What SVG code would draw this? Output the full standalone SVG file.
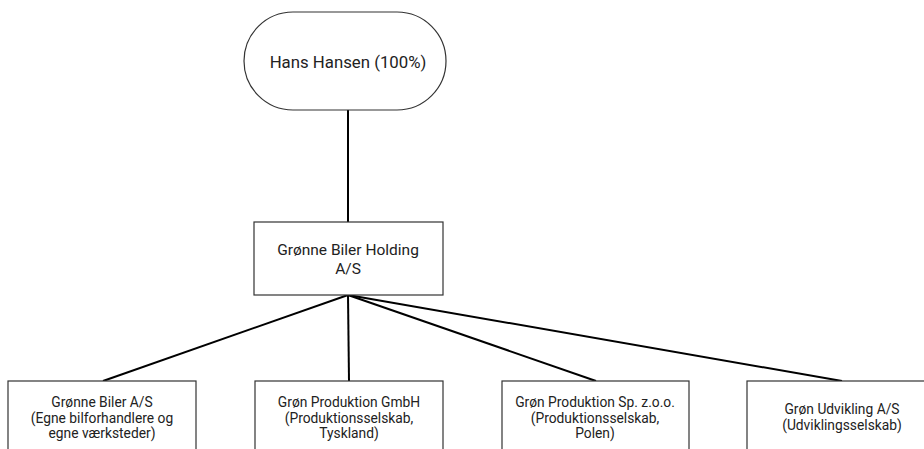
<svg xmlns="http://www.w3.org/2000/svg" width="924" height="449" viewBox="0 0 924 449">
<style>
.box{fill:#fff;stroke:#333;stroke-width:1.2}
.t{font-family:Roboto,"Liberation Sans",sans-serif;fill:#222;text-anchor:middle}
.top{font-size:16.8px}
.big{font-size:15.5px}
.sm{font-size:13.8px}
.c{stroke:#000;stroke-width:2;fill:none}
</style>
<rect width="924" height="449" fill="#fff"/>
<g id="connectors">
<line class="c" x1="348" y1="110" x2="348" y2="222"/>
<line class="c" x1="348" y1="295" x2="103" y2="381"/>
<line class="c" x1="348" y1="295" x2="349" y2="381"/>
<line class="c" x1="348" y1="295" x2="596" y2="381"/>
<line class="c" x1="348" y1="295" x2="842" y2="381"/>
</g>
<g id="hans">
<rect class="box" x="244" y="12" width="202" height="98" rx="49" ry="49"/>
<text class="t top" x="348" y="68">Hans Hansen (100%)</text>
</g>
<g id="holding">
<rect class="box" x="254" y="222" width="189" height="73"/>
<text class="t big" x="348" y="254.5">Grønne Biler Holding</text>
<text class="t big" x="348" y="274">A/S</text>
</g>
<g id="biler">
<rect class="box" x="8" y="381" width="188" height="80"/>
<text class="t sm" x="102" y="407">Grønne Biler A/S</text>
<text class="t sm" x="102" y="422.5">(Egne bilforhandlere og</text>
<text class="t sm" x="102" y="438">egne værksteder)</text>
</g>
<g id="gmbh">
<rect class="box" x="255" y="381" width="188" height="80"/>
<text class="t sm" x="349" y="407">Grøn Produktion GmbH</text>
<text class="t sm" x="349" y="422.5">(Produktionsselskab,</text>
<text class="t sm" x="349" y="438">Tyskland)</text>
</g>
<g id="spzoo">
<rect class="box" x="502" y="381" width="187" height="80"/>
<text class="t sm" x="595" y="407">Grøn Produktion Sp. z.o.o.</text>
<text class="t sm" x="595" y="422.5">(Produktionsselskab,</text>
<text class="t sm" x="595" y="438">Polen)</text>
</g>
<g id="udvikling">
<rect class="box" x="747" y="381" width="188" height="80"/>
<text class="t sm" x="842" y="414">Grøn Udvikling A/S</text>
<text class="t sm" x="842" y="429.5">(Udviklingsselskab)</text>
</g>
</svg>
